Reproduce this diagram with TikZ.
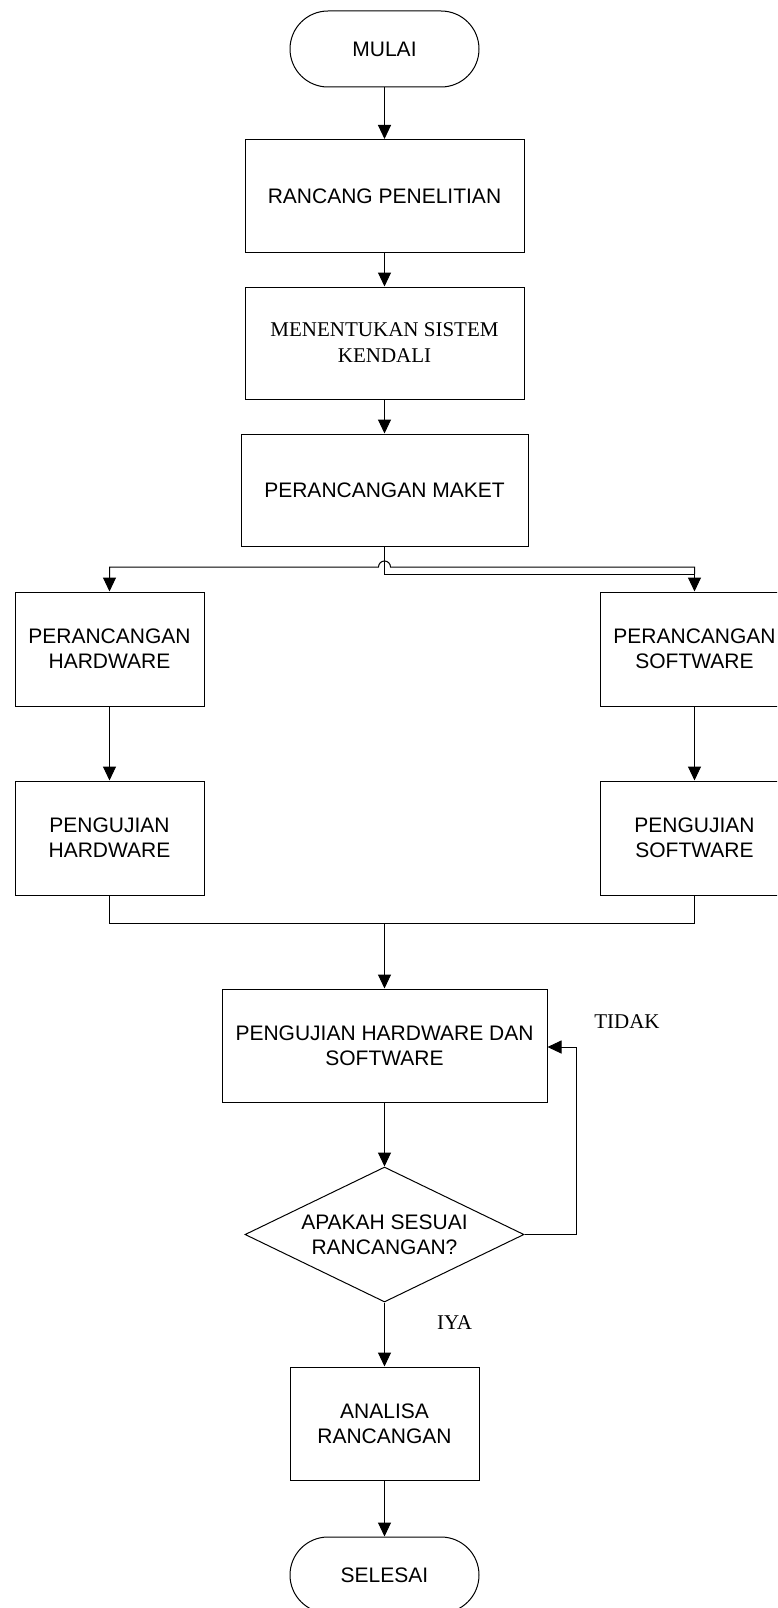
\documentclass[tikz,border=0pt]{standalone}
\usepackage{fontspec}
\setmainfont{Liberation Sans}
\newfontfamily\serifx{Liberation Serif}
\usetikzlibrary{arrows.meta,shapes.geometric}
\tikzset{
  base/.style={draw=black, line width=1pt, inner sep=0pt, align=center, font=\fontsize{21}{25}\selectfont},
  procbox/.style={base, rectangle},
  termbox/.style={base, rectangle, rounded corners=38pt, minimum width=189pt, minimum height=76pt},
  decbox/.style={base, diamond, minimum width=279pt, minimum height=135pt},
  arr/.style={line width=1pt, -{Triangle[length=14pt,width=13pt]}},
  ln/.style={line width=1pt},
  lbl/.style={inner sep=0pt, font=\serifx\fontsize{21}{25}\selectfont}
}
\begin{document}
\begin{tikzpicture}[x=1pt,y=-1pt]
\useasboundingbox (0,0) rectangle (777,1608);
\clip (0,0) rectangle (777,1608);
\node[termbox] (mulai) at (384.5,49) {MULAI};
\node[procbox, minimum width=279pt, minimum height=113pt] (rancang) at (384.5,196) {RANCANG PENELITIAN};
\node[procbox, minimum width=279pt, minimum height=112pt, font=\serifx\fontsize{21}{26}\selectfont] (sistem) at (384.5,343) {MENENTUKAN SISTEM\\KENDALI};
\node[procbox, minimum width=287pt, minimum height=112pt] (maket) at (384.5,490) {PERANCANGAN MAKET};
\node[procbox, minimum width=189pt, minimum height=114pt] (phw) at (109.5,649) {PERANCANGAN\\HARDWARE};
\node[procbox, minimum width=189pt, minimum height=114pt] (psw) at (694.5,649) {PERANCANGAN\\SOFTWARE};
\node[procbox, minimum width=189pt, minimum height=114pt] (uhw) at (109.5,838) {PENGUJIAN\\HARDWARE};
\node[procbox, minimum width=189pt, minimum height=114pt] (usw) at (694.5,838) {PENGUJIAN\\SOFTWARE};
\node[procbox, minimum width=325pt, minimum height=113pt] (uboth) at (384.5,1045.5) {PENGUJIAN HARDWARE DAN\\SOFTWARE};
\node[decbox] (dec) at (384.5,1234.5) {};
\node[base, draw=none] (dectext) at (dec.center) {APAKAH SESUAI\\RANCANGAN?};
\node[procbox, minimum width=189pt, minimum height=113pt] (analisa) at (384.5,1423.5) {ANALISA\\RANCANGAN};
\node[termbox] (selesai) at (384.5,1575) {SELESAI};
\node[lbl] (tidak) at (627,1022) {TIDAK};
\node[lbl] (iya) at (454.5,1323) {IYA};
% straight connectors
\draw[arr] (mulai) -- (rancang);
\draw[arr] (rancang) -- (sistem);
\draw[arr] (sistem) -- (maket);
% branch
\coordinate (bs) at (384.5,574);
\coordinate (br2) at (694.5,574);
\coordinate (br) at (694.5,567);
\coordinate (bl) at (109.5,567);
\coordinate (hopR) at (390.5,567);
\draw[arr] (maket.south) -- (bs) -- (br2) -- (psw.north);
\draw[arr] (br2) -- (br) -- (hopR) arc[start angle=0,end angle=180,radius=6pt] -- (bl) -- (phw.north);
\draw[arr] (phw) -- (uhw);
\draw[arr] (psw) -- (usw);
% merge
\coordinate (m) at (384.5,923);
\draw[ln] (uhw.south) |- (m);
\draw[ln] (usw.south) |- (m);
\draw[arr] (m) -- (uboth.north);
\draw[arr] (uboth) -- (dec.north);
% loop back
\coordinate (lp) at (576,1234.5);
\coordinate (lq) at (576,1047);
\draw[arr] (dec.east) -- (lp) -- (lq) -- (uboth.east |- lq);
\draw[arr] (dec.south) -- (analisa.north);
\draw[arr] (analisa) -- (selesai);
\end{tikzpicture}
\end{document}
